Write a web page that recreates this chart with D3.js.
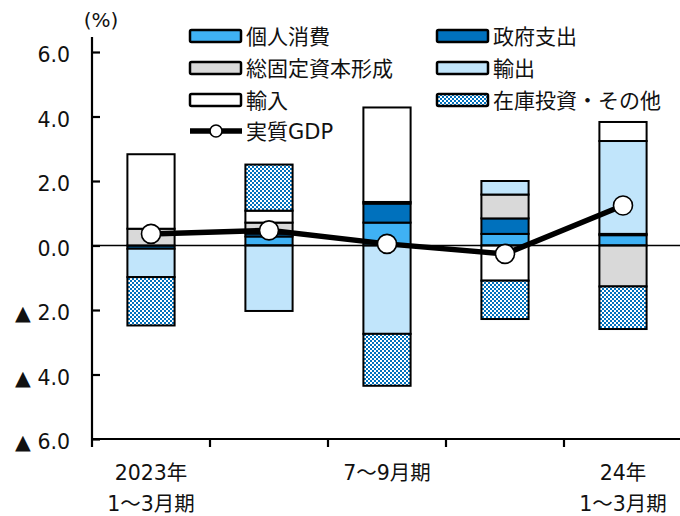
<!DOCTYPE html>
<html>
<head>
<meta charset="utf-8" />
<script src="https://cdn.jsdelivr.net/npm/d3@7"></script>
<style>
body { margin: 0; background: #fff; }
svg text { font-family: "DejaVu Sans", "Noto Sans CJK JP", sans-serif; fill: #111; }
.bar rect { stroke: #000; stroke-width: 2; }
.sw { stroke: #000; stroke-width: 2.5; }
</style>
</head>
<body>
<div id="chart"></div>
<script>
var W = 680, H = 516;

// quarters (2023 1-3 ... 2024 1-3)
var quarters = ["2023Q1", "2023Q2", "2023Q3", "2023Q4", "2024Q1"];
var qLabels = [["2023年", "1～3月期"], [], ["7～9月期"], [], ["24年", "1～3月期"]];

// contributions (pt)
var consumption = [0.00, 0.28, 0.71, 0.36, 0.32];
var government  = [-0.10, 0.09, 0.59, 0.48, 0.04];
var investment  = [0.52, 0.34, 0.05, 0.74, -1.27];
var exports     = [-0.88, -2.03, -2.74, 0.42, 2.88];
var imports     = [2.31, 0.37, 2.93, -1.09, 0.59];
var inventory   = [-1.50, 1.43, -1.61, -1.19, -1.32];
var gdp         = [0.36, 0.47, 0.05, -0.26, 1.24];

var yTicks = [6, 4, 2, 0, -2, -4, -6];

var series = [
  { key: "個人消費", vals: consumption, fill: "#3fb1f4" },
  { key: "政府支出", vals: government, fill: "#0071bd" },
  { key: "総固定資本形成", vals: investment, fill: "#d9d9d9" },
  { key: "輸出", vals: exports, fill: "#c1e5fb" },
  { key: "輸入", vals: imports, fill: "#ffffff" },
  { key: "在庫投資・その他", vals: inventory, fill: "url(#chk)" }
];

var rows = quarters.map(function(q, i) {
  var r = { q: q };
  series.forEach(function(s) { r[s.key] = s.vals[i]; });
  return r;
});

var svg = d3.select("#chart").append("svg").attr("width", W).attr("height", H);

var pat = svg.append("defs").append("pattern")
  .attr("id", "chk").attr("width", 4).attr("height", 4)
  .attr("patternUnits", "userSpaceOnUse");
pat.append("rect").attr("width", 4).attr("height", 4).attr("fill", "#0071bd");
pat.append("rect").attr("width", 2).attr("height", 2).attr("fill", "#fff");
pat.append("rect").attr("x", 2).attr("y", 2).attr("width", 2).attr("height", 2).attr("fill", "#fff");

var x = d3.scaleBand().domain(quarters).range([92, 682]).paddingInner(0.6).paddingOuter(0.3);
var y = d3.scaleLinear().domain([-6, 6]).range([439, 52]);

var stack = d3.stack().keys(series.map(function(s) { return s.key; }))
  .offset(d3.stackOffsetDiverging)(rows);

// bars
svg.selectAll("g.bar").data(stack).enter().append("g")
  .attr("class", "bar")
  .attr("fill", function(d, i) { return series[i].fill; })
  .selectAll("rect").data(function(d) { return d; }).enter().append("rect")
  .attr("x", function(d) { return x(d.data.q); })
  .attr("width", x.bandwidth())
  .attr("y", function(d) { return y(Math.max(d[0], d[1])); })
  .attr("height", function(d) { return Math.abs(y(d[0]) - y(d[1])); });

// zero line
svg.append("line").attr("x1", 92).attr("x2", 680)
  .attr("y1", y(0)).attr("y2", y(0)).attr("stroke", "#000").attr("stroke-width", 1.6);

// y axis
var yAxis = svg.append("g").attr("transform", "translate(92,0)")
  .call(d3.axisRight(y).tickValues(yTicks).tickSize(8).tickFormat(""));
yAxis.select(".domain").attr("d", "M0,37V" + y(-6)).attr("stroke-width", 2.2);
yAxis.selectAll(".tick line").attr("stroke-width", 2.2);
svg.selectAll("text.ylab").data(yTicks).enter().append("text")
  .attr("class", "ylab")
  .attr("x", 70).attr("y", function(d) { return y(d) + 10; })
  .attr("text-anchor", "end").attr("font-size", 20.5)
  .text(function(d) { return (d < 0 ? "▲ " : "") + Math.abs(d).toFixed(1); });

svg.append("text").attr("x", 101).attr("y", 27).attr("text-anchor", "middle")
  .attr("font-size", 20).text("(%)");

// x axis
var step = x.step();
svg.append("line").attr("x1", 92).attr("x2", 680).attr("y1", 439).attr("y2", 439)
  .attr("stroke", "#000").attr("stroke-width", 2.2);
svg.selectAll("line.xt").data(quarters).enter().append("line")
  .attr("class", "xt")
  .attr("x1", function(d) { return x(d) + x.bandwidth() / 2 - step / 2; })
  .attr("x2", function(d) { return x(d) + x.bandwidth() / 2 - step / 2; })
  .attr("y1", 439).attr("y2", 447).attr("stroke", "#000").attr("stroke-width", 2.2);

quarters.forEach(function(q, i) {
  qLabels[i].forEach(function(t, j) {
    svg.append("text").attr("x", x(q) + x.bandwidth() / 2).attr("y", 480 + j * 31)
      .attr("text-anchor", "middle").attr("font-size", 20.5).text(t);
  });
});

// GDP line
var cx = function(d, i) { return x(quarters[i]) + x.bandwidth() / 2; };
svg.append("path").datum(gdp)
  .attr("fill", "none").attr("stroke", "#000").attr("stroke-width", 5.5)
  .attr("d", d3.line().x(cx).y(function(d) { return y(d); }));
svg.selectAll("circle.gdp").data(gdp).enter().append("circle")
  .attr("class", "gdp")
  .attr("cx", cx).attr("cy", function(d) { return y(d); })
  .attr("r", 9.5).attr("fill", "#fff").attr("stroke", "#000").attr("stroke-width", 1.6);

// legend
var leg = [
  { s: series[0], x: 190, y: 36 }, { s: series[1], x: 437, y: 36 },
  { s: series[2], x: 190, y: 68 }, { s: series[3], x: 437, y: 68 },
  { s: series[4], x: 190, y: 100 }, { s: series[5], x: 437, y: 100 }
];
leg.forEach(function(l) {
  svg.append("rect").attr("class", "sw").attr("x", l.x).attr("y", l.y - 6)
    .attr("width", 51).attr("height", 12).attr("rx", 1.5).attr("fill", l.s.fill);
  svg.append("text").attr("x", l.x + 56).attr("y", l.y + 8).attr("font-size", 21).text(l.s.key);
});
svg.append("line").attr("x1", 190).attr("x2", 242).attr("y1", 131).attr("y2", 131)
  .attr("stroke", "#000").attr("stroke-width", 5.5);
svg.append("circle").attr("cx", 216).attr("cy", 131).attr("r", 6)
  .attr("fill", "#fff").attr("stroke", "#000").attr("stroke-width", 1.6);
svg.append("text").attr("x", 246).attr("y", 139).attr("font-size", 21).text("実質GDP");
</script>
</body>
</html>
